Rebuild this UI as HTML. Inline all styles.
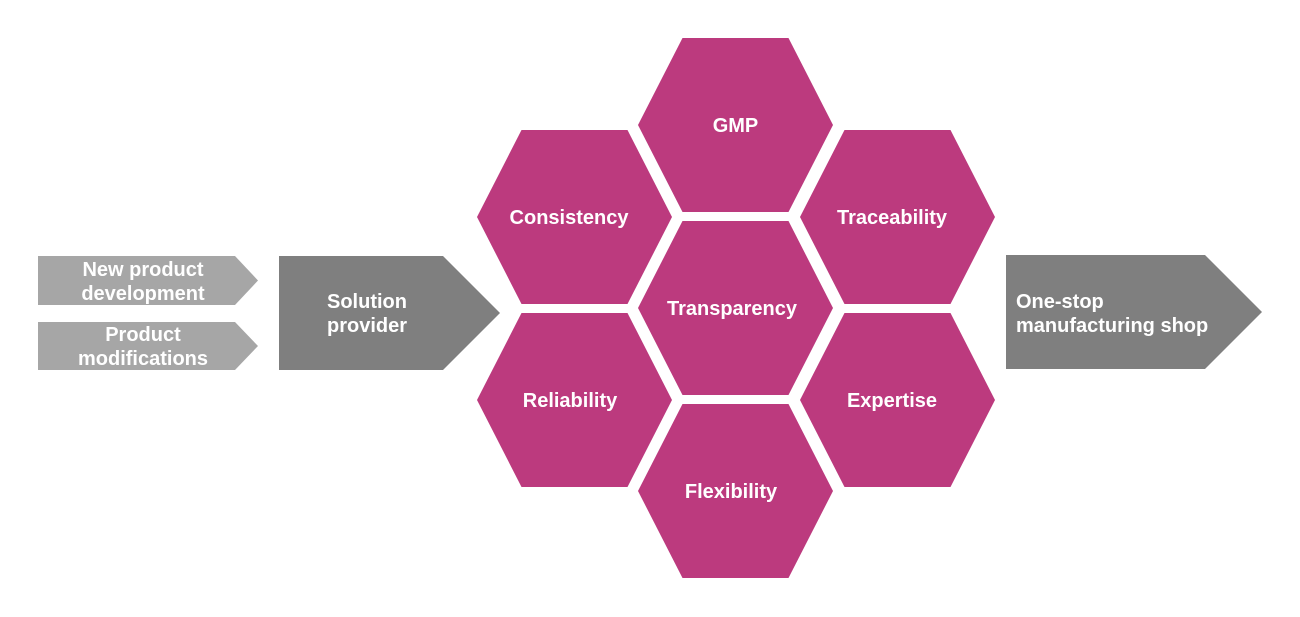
<!DOCTYPE html>
<html><head><meta charset="utf-8"><style>
html,body{margin:0;padding:0;background:#fff;}
svg{display:block}
text{font-family:"Liberation Sans",Arial,sans-serif;font-weight:bold;fill:#fff;font-size:20px;text-anchor:middle}
</style></head><body>
<svg width="1300" height="617" viewBox="0 0 1300 617">
<defs>
<polygon id="hx" points="-97.5,0 -53,-87 53,-87 97.5,0 53,87 -53,87" fill="#BC3A7E"/>
</defs>
<use href="#hx" x="735.5" y="125"/>
<use href="#hx" x="574.5" y="217"/>
<use href="#hx" x="897.5" y="217"/>
<use href="#hx" x="735.5" y="308"/>
<use href="#hx" x="574.5" y="400"/>
<use href="#hx" x="897.5" y="400"/>
<use href="#hx" x="735.5" y="491"/>
<text x="735.5" y="132">GMP</text>
<text x="569" y="224">Consistency</text>
<text x="892" y="224">Traceability</text>
<text x="732" y="315">Transparency</text>
<text x="570" y="407">Reliability</text>
<text x="892" y="407">Expertise</text>
<text x="731" y="498">Flexibility</text>
<polygon points="38,256 235,256 258,280.5 235,305 38,305" fill="#A6A6A6"/>
<polygon points="38,322 235,322 258,346 235,370 38,370" fill="#A6A6A6"/>
<polygon points="279,256 443,256 500,313 443,370 279,370" fill="#7F7F7F"/>
<polygon points="1006,255 1205,255 1262,312 1205,369 1006,369" fill="#7F7F7F"/>
<text x="143" y="276">New product</text>
<text x="143" y="300">development</text>
<text x="143" y="341">Product</text>
<text x="143" y="365">modifications</text>
<text x="367" y="308">Solution</text>
<text x="367" y="332">provider</text>
<text x="1016" y="308" style="text-anchor:start">One-stop</text>
<text x="1016" y="332" style="text-anchor:start">manufacturing shop</text>
</svg>
</body></html>
